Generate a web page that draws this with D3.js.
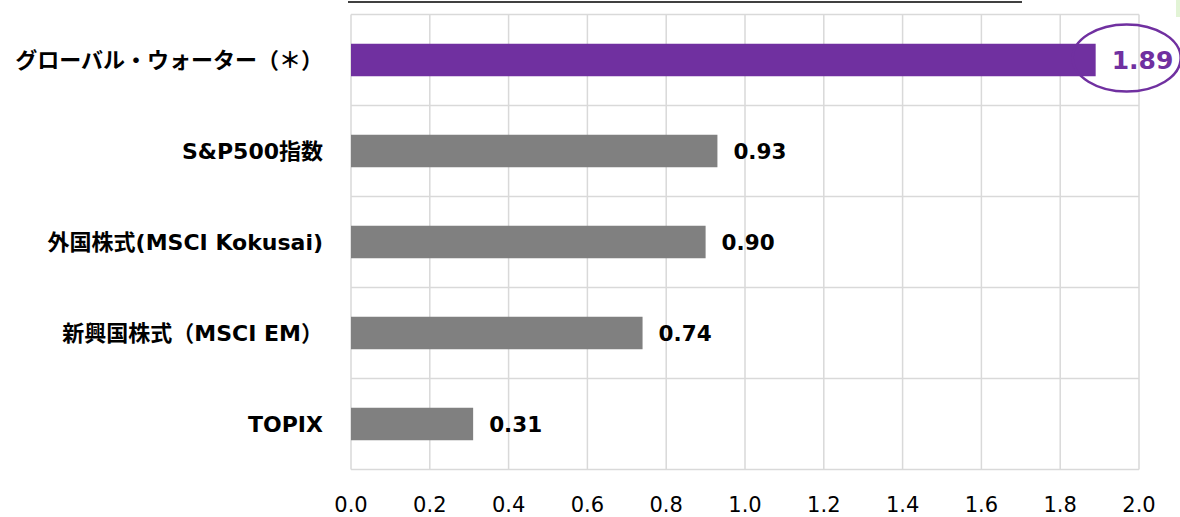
<!DOCTYPE html>
<html><head><meta charset="utf-8">
<script src="https://cdn.jsdelivr.net/npm/d3@7"></script>
<style>
html,body{margin:0;padding:0;background:#fff;}
svg{display:block;}
</style></head>
<body>
<svg id="chart" width="1180" height="517"></svg>
<script>
const categories = ["グローバル・ウォーター（＊）","S&P500指数","外国株式(MSCI Kokusai)","新興国株式（MSCI EM）","TOPIX"];
const values = [1.89, 0.93, 0.90, 0.74, 0.31];
const xTicks = [0.0,0.2,0.4,0.6,0.8,1.0,1.2,1.4,1.6,1.8,2.0];

const svg = d3.select("#chart");
const W = 1180, H = 517;
const m = {left:351, right:41, top:14.5, bottom:47.5};
const x = d3.scaleLinear().domain([0,2]).range([m.left, W - m.right]);
const y = d3.scaleBand().domain(categories).range([m.top, H - m.bottom]).paddingInner(0).paddingOuter(0);

// green corner patch (cut-off element)
svg.append("rect").attr("x",1176).attr("y",0).attr("width",4).attr("height",17).attr("fill","#e2f4d6");

// title underline (title text is cut off above the view)
svg.append("line").attr("x1",348).attr("x2",1022).attr("y1",2).attr("y2",2)
  .attr("stroke","#000").attr("stroke-width",1.6);

const grid = svg.append("g");
grid.selectAll("line.v").data(xTicks).join("line")
  .attr("x1",d=>x(d)).attr("x2",d=>x(d))
  .attr("y1",m.top).attr("y2",H-m.bottom)
  .attr("stroke","#d9d9d9").attr("stroke-width",1.5);
const bounds = categories.map(c=>y(c)).concat([y(categories[categories.length-1])+y.bandwidth()]);
grid.selectAll("line.h").data(bounds).join("line")
  .attr("x1",m.left).attr("x2",W-m.right)
  .attr("y1",d=>d).attr("y2",d=>d)
  .attr("stroke","#d9d9d9").attr("stroke-width",1.5);

const barH = 32.5;
svg.append("g").selectAll("rect").data(values).join("rect")
  .attr("x",x(0))
  .attr("y",(d,i)=>y(categories[i]) + y.bandwidth()/2 - barH/2)
  .attr("width",d=>x(d)-x(0))
  .attr("height",barH)
  .attr("fill",(d,i)=> i===0 ? "#7030a0" : "#808080");

svg.append("g").selectAll("text").data(values).join("text")
  .attr("x",d=>x(d)+16)
  .attr("y",(d,i)=>y(categories[i]) + y.bandwidth()/2)
  .attr("dy","0.36em")
  .attr("font-family","'DejaVu Sans', Verdana, sans-serif")
  .attr("font-weight","bold")
  .attr("font-size",(d,i)=> i===0 ? 25 : 21.5)
  .attr("fill",(d,i)=> i===0 ? "#7030a0" : "#000")
  .text(d=>d.toFixed(2));

svg.append("ellipse")
  .attr("cx", x(values[0]) + 31)
  .attr("cy", y(categories[0]) + y.bandwidth()/2 - 2)
  .attr("rx",54).attr("ry",33.5)
  .attr("fill","none").attr("stroke","#7030a0").attr("stroke-width",2.5);

svg.append("g").selectAll("text").data(categories).join("text")
  .attr("x",323)
  .attr("y",d=>y(d)+y.bandwidth()/2)
  .attr("dy","0.36em")
  .attr("text-anchor","end")
  .attr("font-family","'DejaVu Sans', Verdana, 'Noto Sans CJK JP', sans-serif")
  .attr("font-weight","bold")
  .attr("font-size",22)
  .attr("fill","#000")
  .text(d=>d);

svg.append("g").selectAll("text").data(xTicks).join("text")
  .attr("x",d=>x(d))
  .attr("y",511.5)
  .attr("text-anchor","middle")
  .attr("font-family","'DejaVu Sans', Verdana, sans-serif")
  .attr("font-size",21)
  .attr("fill","#000")
  .text(d=>d.toFixed(1));
</script>
</body></html>
